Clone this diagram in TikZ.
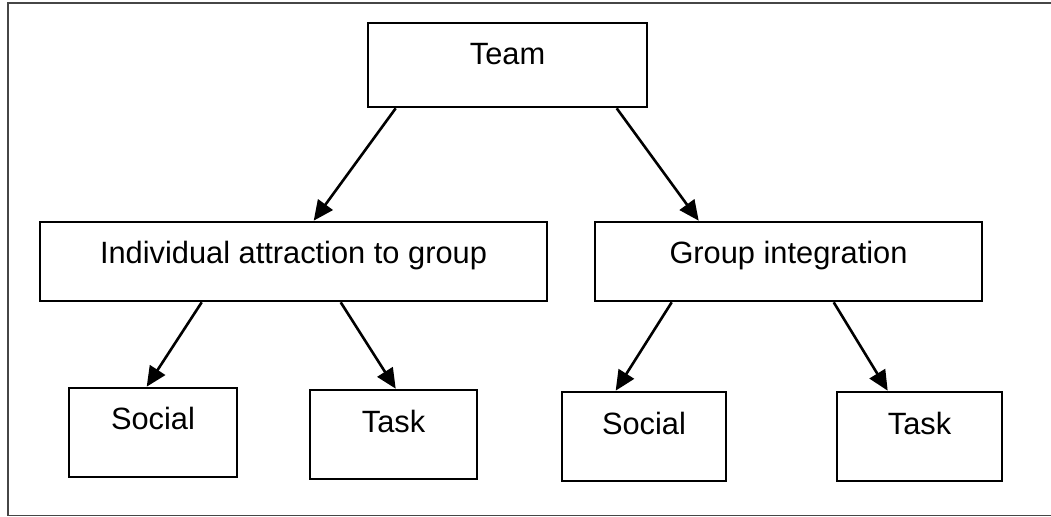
\documentclass[tikz,border=0pt]{standalone}
\usepackage{fontspec}
\setmainfont{Liberation Sans}
\usetikzlibrary{arrows.meta}
\definecolor{framegray}{RGB}{70,70,70}

\begin{document}
\begin{tikzpicture}[x=0.5pt,y=-0.5pt,
    box/.style={draw,line width=1.3pt,rectangle,inner sep=0pt,
      font=\fontsize{15.4}{18}\selectfont,text height=12pt},
    toplevel/.style={box,text depth=12pt},
    midlevel/.style={box,text depth=9.5pt,minimum height=39.5pt},
    lowlevel/.style={box,text depth=14pt,minimum height=44.5pt},
    link/.style={line width=1.3pt,-{Triangle[length=10pt,width=9pt]}}]
\useasboundingbox (0,0) rectangle (1051,517);
\draw[framegray,line width=0.9pt] (1051,3) -- (8,3) -- (8,515.5) -- (1051,515.5);
% top
\node[toplevel,minimum width=139.5pt,minimum height=42pt] (team) at (507.5,65) {Team};
% middle
\node[midlevel,minimum width=253.5pt] (indiv) at (293.5,261.5) {Individual attraction to group};
\node[midlevel,minimum width=193.5pt] (integ) at (788.5,261.5) {Group integration};
% bottom
\node[lowlevel,minimum width=84pt,text depth=15pt] (socialA) at (153,432.5) {Social};
\node[lowlevel,minimum width=83.5pt] (taskA) at (393.5,434.5) {Task};
\node[lowlevel,minimum width=82pt,text depth=13.5pt] (socialB) at (644,436.5) {Social};
\node[lowlevel,minimum width=82.5pt] (taskB) at (919.5,436.5) {Task};
% arrows
\draw[link] ([xshift=14.5pt]team.south west) -- ([xshift=137.5pt]indiv.north west);
\draw[link] ([xshift=125pt]team.south west) -- ([xshift=52.5pt]integ.north west);
\draw[link] ([xshift=81.5pt]indiv.south west) -- ([xshift=39.5pt]socialA.north west);
\draw[link] ([xshift=151pt]indiv.south west) -- ([xshift=43.5pt]taskA.north west);
\draw[link] ([xshift=39pt]integ.south west) -- ([xshift=27.5pt]socialB.north west);
\draw[link] ([xshift=120pt]integ.south west) -- ([xshift=26pt]taskB.north west);
\end{tikzpicture}
\end{document}
